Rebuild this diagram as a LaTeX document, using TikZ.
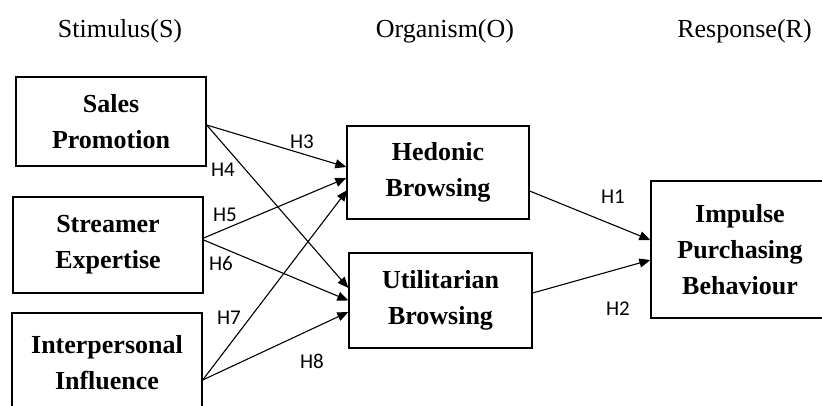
\documentclass[tikz,border=0pt]{standalone}
\usepackage{fontspec}
\setmainfont{Liberation Serif}
\newfontfamily\hfont{Carlito}
\usetikzlibrary{arrows.meta}
\begin{document}
\begin{tikzpicture}[x=1pt,y=-1pt,
  box/.style={draw, line width=1.3pt, align=center, inner sep=0pt, font=\bfseries\fontsize{26}{36}\selectfont},
  hdr/.style={anchor=base, inner sep=0pt, font=\fontsize{26}{30}\selectfont},
  hlab/.style={font=\hfont\fontsize{21}{23}\selectfont, inner sep=0pt},
  arr/.style={line width=1.1pt, -{Triangle[length=11pt,width=9pt]}}]
\useasboundingbox (0,0) rectangle (822,405);
% headers
\node[hdr] (hs) at (120,37) {Stimulus(S)};
\node[hdr] (ho) at (445,37) {Organism(O)};
\node[hdr] (hr) at (744.5,37) {Response(R)};
% boxes
\node[box, minimum width=190pt, minimum height=89pt] (sp) at (111,121.5) {Sales\\Promotion};
\node[box, minimum width=190pt, minimum height=96pt] (se) at (108,245) {Streamer\\Expertise};
\node[box, minimum width=190pt, minimum height=99pt] (ip) at (107,362.5) {Interpersonal\\Influence};
\node[box, minimum width=182pt, minimum height=93pt] (hb) at (438,172.5) {Hedonic\\Browsing};
\node[box, minimum width=183pt, minimum height=95pt] (ub) at (440.5,300.5) {Utilitarian\\Browsing};
\node[box, minimum width=178pt, minimum height=137pt] (ipb) at (740,249.5) {Impulse\\Purchasing\\Behaviour};
% connectors
\draw[arr] ([yshift=-3.5pt]sp.east) -- ([yshift=5.5pt]hb.west);
\draw[arr] ([yshift=-3.5pt]sp.east) -- ([yshift=12.5pt]ub.west);
\draw[arr] ([yshift=7pt]se.east) -- ([yshift=-5.5pt]hb.west);
\draw[arr] ([yshift=5pt]se.east) -- (ub.west);
\draw[arr] ([yshift=-17.5pt]ip.east) -- ([xshift=1pt,yshift=-17.5pt]hb.west);
\draw[arr] ([yshift=-17.5pt]ip.east) -- ([yshift=-11.5pt]ub.west);
\draw[arr] ([yshift=-18.5pt]hb.east) -- ([yshift=9.5pt]ipb.west);
\draw[arr] ([yshift=7.5pt]ub.east) -- ([yshift=-10.5pt]ipb.west);
% labels
\node[hlab] (l1) at (613,197) {H1};
\node[hlab] (l2) at (618,309) {H2};
\node[hlab] (l3) at (302,142) {H3};
\node[hlab] (l4) at (223,170) {H4};
\node[hlab] (l5) at (225,215) {H5};
\node[hlab] (l6) at (221,263) {H6};
\node[hlab] (l7) at (229,318) {H7};
\node[hlab] (l8) at (312,361) {H8};
\end{tikzpicture}
\end{document}
